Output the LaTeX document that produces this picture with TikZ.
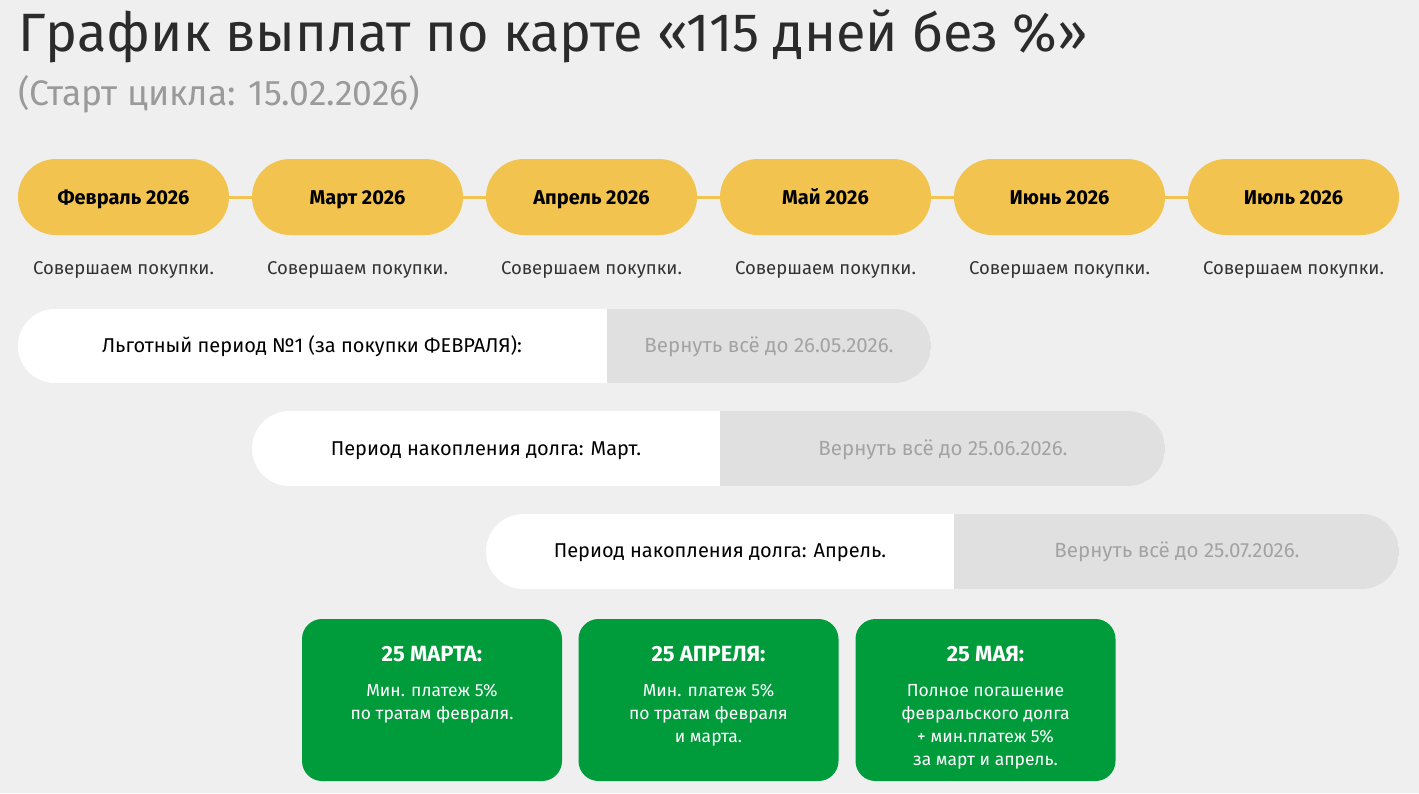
\documentclass[tikz,border=0pt]{standalone}
\usepackage{fontspec}
\setmainfont{Fira Sans}
\definecolor{bg}{HTML}{EFEFEF}
\definecolor{pill}{HTML}{F2C44F}
\definecolor{titlec}{HTML}{2B2B2B}
\definecolor{subc}{HTML}{9A9A9A}
\definecolor{barg}{HTML}{E0E0E0}
\definecolor{bart}{HTML}{A3A3A3}
\definecolor{grn}{HTML}{009B3A}
\definecolor{txt}{HTML}{333333}
\tikzset{
  monthpill/.style={fill=pill, rounded corners=38pt, minimum width=211pt, minimum height=76pt, inner sep=0pt, text height=16pt, text depth=2pt, font=\fontsize{20}{24}\selectfont\bfseries, text=black},
  buytext/.style={font=\fontsize{18.5}{22}\selectfont, text=txt, text height=15pt, text depth=2pt},
  link/.style={draw=pill, line width=3pt},
  bartext/.style={font=\fontsize{20}{24}\selectfont, text=black, text height=15pt, text depth=3pt},
  backtext/.style={font=\fontsize{20.5}{24}\selectfont, text=bart, text height=15pt, text depth=3pt},
  paybox/.style={fill=grn, rounded corners=20pt, minimum width=260pt, minimum height=162pt, inner sep=0pt},
  paytitle/.style={font=\fontsize{22}{26}\selectfont\bfseries, text=white, text height=17pt, text depth=2pt},
  paybody/.style={font=\fontsize{17.5}{23}\selectfont, text=white, align=center, anchor=north},
}
\begin{document}
\begin{tikzpicture}[x=1pt,y=-1pt]
\useasboundingbox (0,0) rectangle (1419,793);
\fill[bg] (0,0) rectangle (1419,793);
% title
\node[anchor=base west, inner sep=0pt, text=titlec, font=\fontsize{54}{60}\selectfont] (title) at (18,51) {График выплат по карте «115 дней без \%»};
\node[anchor=base west, inner sep=0pt, text=subc, font=\fontsize{35.5}{40}\selectfont] (sub) at (18,105) {(Старт цикла: 15.02.2026)};
% months
\node[monthpill] (m1) at (123.5,197) {Февраль 2026};
\node[monthpill] (m2) at (357.5,197) {Март 2026};
\node[monthpill] (m3) at (591.5,197) {Апрель 2026};
\node[monthpill] (m4) at (825.5,197) {Май 2026};
\node[monthpill] (m5) at (1059.5,197) {Июнь 2026};
\node[monthpill] (m6) at (1293.5,197) {Июль 2026};
\draw[link] (m1) -- (m2);
\draw[link] (m2) -- (m3);
\draw[link] (m3) -- (m4);
\draw[link] (m4) -- (m5);
\draw[link] (m5) -- (m6);
\foreach \i/\x in {1/123.5,2/357.5,3/591.5,4/825.5,5/1059.5,6/1293.5}{
  \node[buytext] (b\i) at (\x,268) {Совершаем покупки.};
}
% bars
\begin{scope}
\clip[rounded corners=37pt] (18,309) rectangle (931,383);
\fill[white] (18,309) rectangle (607,383);
\fill[barg] (607,309) rectangle (931,383);
\end{scope}
\node[bartext] (r1a) at (312,346) {Льготный период №1 (за покупки ФЕВРАЛЯ):};
\node[backtext] (r1b) at (769,346) {Вернуть всё до 26.05.2026.};
\begin{scope}
\clip[rounded corners=37.5pt] (252,411) rectangle (1165,486);
\fill[white] (252,411) rectangle (720,486);
\fill[barg] (720,411) rectangle (1165,486);
\end{scope}
\node[bartext] (r2a) at (486,449) {Период накопления долга: Март.};
\node[backtext] (r2b) at (943,449) {Вернуть всё до 25.06.2026.};
\begin{scope}
\clip[rounded corners=37.5pt] (486,514) rectangle (1399,589);
\fill[white] (486,514) rectangle (954,589);
\fill[barg] (954,514) rectangle (1399,589);
\end{scope}
\node[bartext] (r3a) at (720,551) {Период накопления долга: Апрель.};
\node[backtext] (r3b) at (1177,551) {Вернуть всё до 25.07.2026.};
% pay boxes
\node[paybox] (p1) at (432,700) {};
\node[paybox] (p2) at (708.5,700) {};
\node[paybox] (p3) at (985.5,700) {};
\node[paytitle] (p1t) at (432,654) {25 МАРТА:};
\node[paytitle] (p2t) at (708.5,654) {25 АПРЕЛЯ:};
\node[paytitle] (p3t) at (985.5,654) {25 МАЯ:};
\node[paybody] (p1b) at (432,681) {Мин. платеж 5\%\\по тратам февраля.};
\node[paybody] (p2b) at (708.5,681) {Мин. платеж 5\%\\по тратам февраля\\и марта.};
\node[paybody] (p3b) at (985.5,681) {Полное погашение\\февральского долга\\+ мин.платеж 5\%\\за март и апрель.};
\end{tikzpicture}
\end{document}
